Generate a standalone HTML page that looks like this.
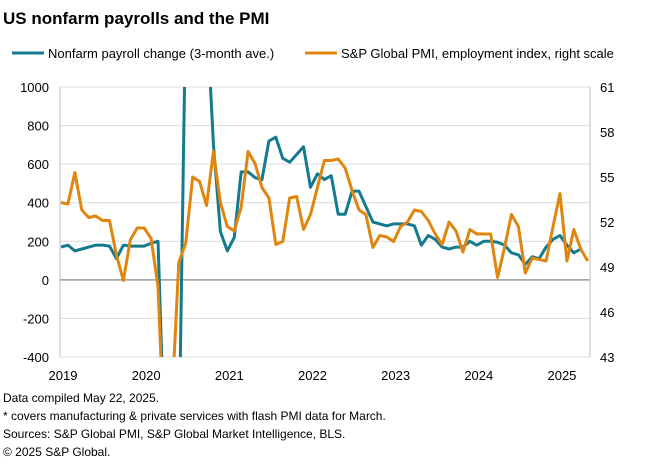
<!DOCTYPE html>
<html><head><meta charset="utf-8"><style>
html,body{margin:0;padding:0;background:#fff;width:652px;height:466px;overflow:hidden;font-family:"Liberation Sans",Arial,sans-serif;}
svg{display:block;}
svg text{font-family:"Liberation Sans",Arial,sans-serif;}
</style></head><body>
<svg id="c" width="652" height="466">
<text x="3" y="24" font-size="17" font-weight="bold" fill="#000">US nonfarm payrolls and the PMI</text>
<g>
<line x1="12" y1="53" x2="44" y2="53" stroke="#147a8e" stroke-width="3"/>
<text x="48" y="58" font-size="13" fill="#000">Nonfarm payroll change (3-month ave.)</text>
<line x1="305" y1="53" x2="337" y2="53" stroke="#e0860f" stroke-width="3"/>
<text x="341" y="58" font-size="13" fill="#000">S&amp;P Global PMI, employment index, right scale</text>
</g>
<g id="grid"></g><g id="ticks"></g>
<defs><clipPath id="pc"><rect x="60" y="87" width="530" height="270"/></clipPath></defs>
<g clip-path="url(#pc)" id="lines"></g>
<g font-size="12" fill="#000">
<text x="3" y="402">Data compiled May 22, 2025.</text>
<text x="3" y="420">* covers manufacturing &amp; private services with flash PMI data for March.</text>
<text x="3" y="438">Sources: S&amp;P Global PMI, S&amp;P Global Market Intelligence, BLS.</text>
<text x="3" y="456">© 2025 S&amp;P Global.</text>
</g>
</svg>
<script>
const payrolls=[170,180,150,160,170,180,180,175,110,180,175,175,
175,190,200,-1000,-4500,-3000,2000,3000,2000,1400,700,250,
150,220,560,560,530,520,720,740,630,610,650,690,
480,550,520,540,340,340,460,460,380,300,290,280,
290,290,290,280,180,230,210,170,160,170,170,200,
180,200,200,195,180,140,130,80,120,110,170,210,
230,180,140,160];
const pmi=[53.3,53.2,55.3,52.8,52.3,52.4,52.1,52.1,49.8,48.1,50.8,51.6,
51.6,50.9,47.7,36,40,49.3,50.6,55,54.7,53.1,56.7,53.3,
51.7,51.4,53,56.7,55.9,54.3,53.6,50.5,50.7,53.6,53.7,51.5,
52.5,54.3,56.1,56.1,56.2,55.6,54.1,52.8,52.5,50.3,51.1,51,
50.7,51.7,52,52.8,52.7,52.1,51.2,50.5,52,51.4,50,51.5,
51.2,51.2,51.2,48.3,50.3,52.5,51.7,48.6,49.6,49.5,49.4,51.7,
53.9,49.4,51.5,50.2,49.4];
const leftTicks=[1000,800,600,400,200,0,-200,-400];
const rightTicks=[61,58,55,52,49,46,43];
const years=["2019","2020","2021","2022","2023","2024","2025"];
const NS="http://www.w3.org/2000/svg";
const X0=61,XS=6.93,T=87,B=357;
const clampY=y=>Math.max(T-80,Math.min(B+100,y));
const xm=i=>X0+i*XS;
const yl=v=>clampY(T+(1000-v)/1400*(B-T));
const yr=v=>clampY(T+(61-v)/18*(B-T));
function mk(tag,at,parent){const e=document.createElementNS(NS,tag);for(const k in at)e.setAttribute(k,at[k]);parent.appendChild(e);return e;}
const grid=document.getElementById('grid'),ticks=document.getElementById('ticks'),lines=document.getElementById('lines');
leftTicks.forEach(v=>{
 const g=mk('line',{x1:60,x2:590,y1:yl(v),y2:yl(v),stroke:v===0?'#9a9a9a':'#dcdcdc','stroke-width':v===0?1.5:1},grid);
 
 
 const t=mk('text',{x:49,y:yl(v)+5,'text-anchor':'end','font-size':13,fill:'#000'},ticks);
 t.textContent=v;
 
 
});
rightTicks.forEach(v=>{
 const t=mk('text',{x:600,y:yr(v)+5,'font-size':13,fill:'#000'},ticks);
 t.textContent=v;
 
 
});
const la=mk('line',{x1:60,x2:60,y1:T,y2:B,stroke:'#bdbdbd'},grid);


const ra=mk('line',{x1:590,x2:590,y1:T,y2:B,stroke:'#bdbdbd'},grid);


years.forEach((y,i)=>{
 const t=mk('text',{x:xm(i*12)+2,y:380,'text-anchor':'middle','font-size':13,fill:'#000'},ticks);
 t.textContent=y;
 
 
});
const p1=mk('polyline',{points:payrolls.map((v,i)=>xm(i)+','+yl(v)).join(' '),fill:'none',stroke:'#147a8e','stroke-width':3,'stroke-linejoin':'round'},lines);


const p2=mk('polyline',{points:pmi.map((v,i)=>xm(i)+','+yr(v)).join(' '),fill:'none',stroke:'#e0860f','stroke-width':3,'stroke-linejoin':'round'},lines);


</script>
</body></html>
